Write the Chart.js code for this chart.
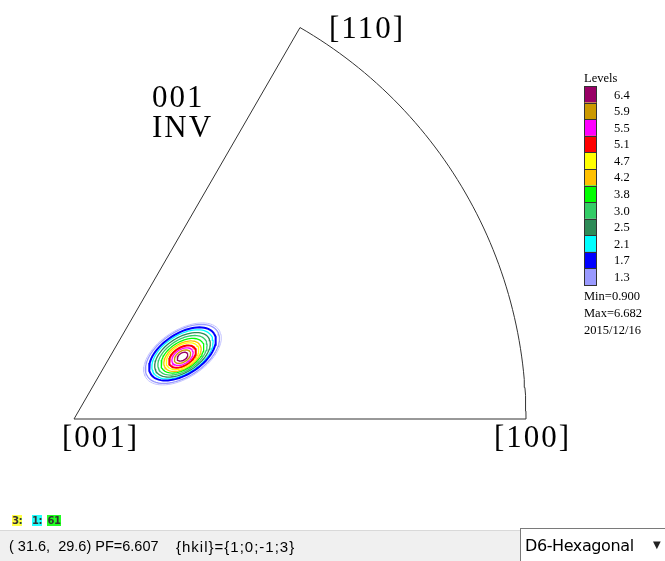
<!DOCTYPE html>
<html>
<head>
<meta charset="utf-8">
<script src="https://cdn.jsdelivr.net/npm/chart.js@4/dist/chart.umd.min.js"></script>
<style>
  html, body { margin: 0; padding: 0; background: #fff; }
  #wrap { position: relative; width: 665px; height: 561px; overflow: hidden; }
  #chartBox { position: absolute; left: 0; top: 0; width: 665px; height: 561px; }
  .tag { position: absolute; top: 515px; height: 11px; font: bold 10px "DejaVu Sans", sans-serif; line-height: 11px; text-align: center; color: #333; letter-spacing: -0.5px; }
  #status { position: absolute; left: 0; top: 530px; width: 665px; height: 31px; background: #f0f0f0; border-top: 1px solid #d9d9d9; }
  .stxt { position: absolute; top: 7px; font: 14.5px "Liberation Sans", Arial, sans-serif; color: #000; white-space: pre; }
  #combo { position: absolute; left: 520px; top: 528px; width: 150px; height: 35px; background: #fff; border-left: 1px solid #7a7a7a; border-top: 1px solid #7a7a7a; }
  #comboText { position: absolute; left: 4px; top: 7px; font: 16px "DejaVu Sans", sans-serif; letter-spacing: -0.4px; color: #000; }
  #arrow { position: absolute; left: 132px; top: 10px; font: 10px "DejaVu Sans", sans-serif; color: #222; }
</style>
</head>
<body>
<div id="wrap">
  <div id="chartBox"><canvas id="ipfChart"></canvas></div>
  <div class="tag" style="left:12px;width:10px;background:#ffff44">3:</div>
  <div class="tag" style="left:32px;width:10px;background:#22ffff">1:</div>
  <div class="tag" style="left:47px;width:14px;background:#22ff22">61</div>
  <div id="status">
    <span class="stxt" style="left:9px">( 31.6,  29.6) PF=6.607</span>
    <span class="stxt" style="left:176px;font-size:15px;letter-spacing:1px">{hkil}={1;0;-1;3}</span>
  </div>
  <div id="combo"><span id="comboText">D6-Hexagonal</span><span id="arrow">▼</span></div>
</div>
<script>
// contour levels (outer -> inner) and their colours
const levels = [1.3, 1.7, 2.1, 2.5, 3.0, 3.8, 4.2, 4.7, 5.1, 5.5, 5.9, 6.4]
const levelColors = ['#9a9aff', '#0000ff', '#00ffff', '#2e8b57', '#33cc66', '#00ff00',
                     '#ffc000', '#ffff00', '#ff0000', '#ff00ff', '#cc9900', '#990066']
// contour shapes (units: radius of the sector = 1)
const centerX = [0.240, 0.240, 0.240, 0.240, 0.240, 0.240, 0.240, 0.240, 0.240, 0.240, 0.240, 0.240]
const centerY = [0.144, 0.144, 0.143, 0.142, 0.141, 0.140, 0.139, 0.139, 0.138, 0.138, 0.138, 0.138]
const semiMajor = [0.092, 0.083, 0.076, 0.069, 0.061, 0.053, 0.046, 0.040, 0.033, 0.026, 0.020, 0.013]
const semiMinor = [0.050, 0.045, 0.042, 0.038, 0.034, 0.030, 0.027, 0.024, 0.020, 0.016, 0.012, 0.008]
const tiltDeg = 33
// corner labels and their poles
const poleLabels = ['[001]', '[100]', '[110]']
const stats = ['Min=0.900', 'Max=6.682', '2015/12/16']

// sector frame: [001] -> [100] -> arc -> [110] -> [001]
function sectorFrame() {
    const pts = [{ x: 0, y: 0 }]
    for (let a = 0; a <= 60; a += 1) {
        const r = a * Math.PI / 180
        pts.push({ x: Math.cos(r), y: Math.sin(r) })
    }
    pts.push({ x: 0, y: 0 })
    return pts
}

function contour(i, grow = 1) {
    const pts = []
    const t = tiltDeg * Math.PI / 180
    for (let k = 0; k <= 72; k++) {
        const a = k / 72 * Math.PI * 2
        const ex = semiMajor[i] * grow * Math.cos(a), ey = semiMinor[i] * grow * Math.sin(a)
        pts.push({
            x: centerX[i] + ex * Math.cos(t) - ey * Math.sin(t),
            y: centerY[i] + ex * Math.sin(t) + ey * Math.cos(t)
        })
    }
    return pts
}

const datasets = [{
    data: sectorFrame(), showLine: true, borderColor: '#333', borderWidth: 1,
    pointRadius: 0, fill: false, tension: 0
}]
// faint outer halo next to the 1.3 line
datasets.push({
    data: contour(0, 1.05), showLine: true, borderColor: '#c4c4ff', borderWidth: 1,
    pointRadius: 0, tension: 0
})
levels.forEach((lv, i) => {
    datasets.push({
        label: String(lv), data: contour(i), showLine: true, borderColor: levelColors[i],
        borderWidth: i === 1 || i === 8 ? 2 : 1.3, pointRadius: 0, tension: 0
    })
})

// pixel placement: [001] at (74,419), radius 452 px
const R = 452, ox = 74, oy = 419, W = 665, H = 561

const textPlugin = {
    id: 'ipfText',
    afterDraw(chart) {
        const ctx = chart.ctx
        const xs = chart.scales.x, ys = chart.scales.y
        ctx.save()
        ctx.fillStyle = '#000'
        ctx.textBaseline = 'alphabetic'
        ctx.font = '31px "Liberation Serif", "Times New Roman", serif'
        if ('letterSpacing' in ctx) ctx.letterSpacing = '2px'
        ctx.textAlign = 'left'
        ctx.fillText(poleLabels[0], xs.getPixelForValue(0) - 12, ys.getPixelForValue(0) + 28)
        ctx.fillText(poleLabels[1], xs.getPixelForValue(1) - 32, ys.getPixelForValue(0) + 28)
        ctx.fillText(poleLabels[2], xs.getPixelForValue(0.5) + 29, ys.getPixelForValue(0.866) + 10)
        ctx.fillText('001', 152, 107)
        ctx.fillText('INV', 152, 137)
        if ('letterSpacing' in ctx) ctx.letterSpacing = '0px'

        // level legend
        ctx.font = '12.5px "Liberation Serif", "Times New Roman", serif'
        ctx.fillText('Levels', 584, 82)
        const top = 86, bh = 199 / levels.length
        for (let i = 0; i < levels.length; i++) {
            const j = levels.length - 1 - i
            const y = top + i * bh
            ctx.fillStyle = levelColors[j]
            ctx.fillRect(584, y, 13, bh)
            ctx.strokeStyle = '#333'
            ctx.lineWidth = 1
            ctx.strokeRect(584.5, Math.round(y) + 0.5, 12, Math.round(bh))
            ctx.fillStyle = '#000'
            ctx.textBaseline = 'middle'
            ctx.fillText(levels[j].toFixed(1), 614, y + bh / 2 + 1)
        }
        ctx.textBaseline = 'alphabetic'
        stats.forEach((s, i) => ctx.fillText(s, 584, 300 + i * 17))
        ctx.restore()
    }
}

new Chart(document.getElementById('ipfChart'), {
    type: 'scatter',
    data: { datasets },
    options: {
        responsive: true,
        maintainAspectRatio: false,
        animation: false,
        layout: { padding: 0 },
        plugins: { legend: { display: false }, tooltip: { enabled: false } },
        scales: {
            x: { type: 'linear', display: false, min: -ox / R, max: (W - ox) / R },
            y: { type: 'linear', display: false, min: -(H - oy) / R, max: oy / R }
        }
    },
    plugins: [textPlugin]
})
</script>
</body>
</html>
